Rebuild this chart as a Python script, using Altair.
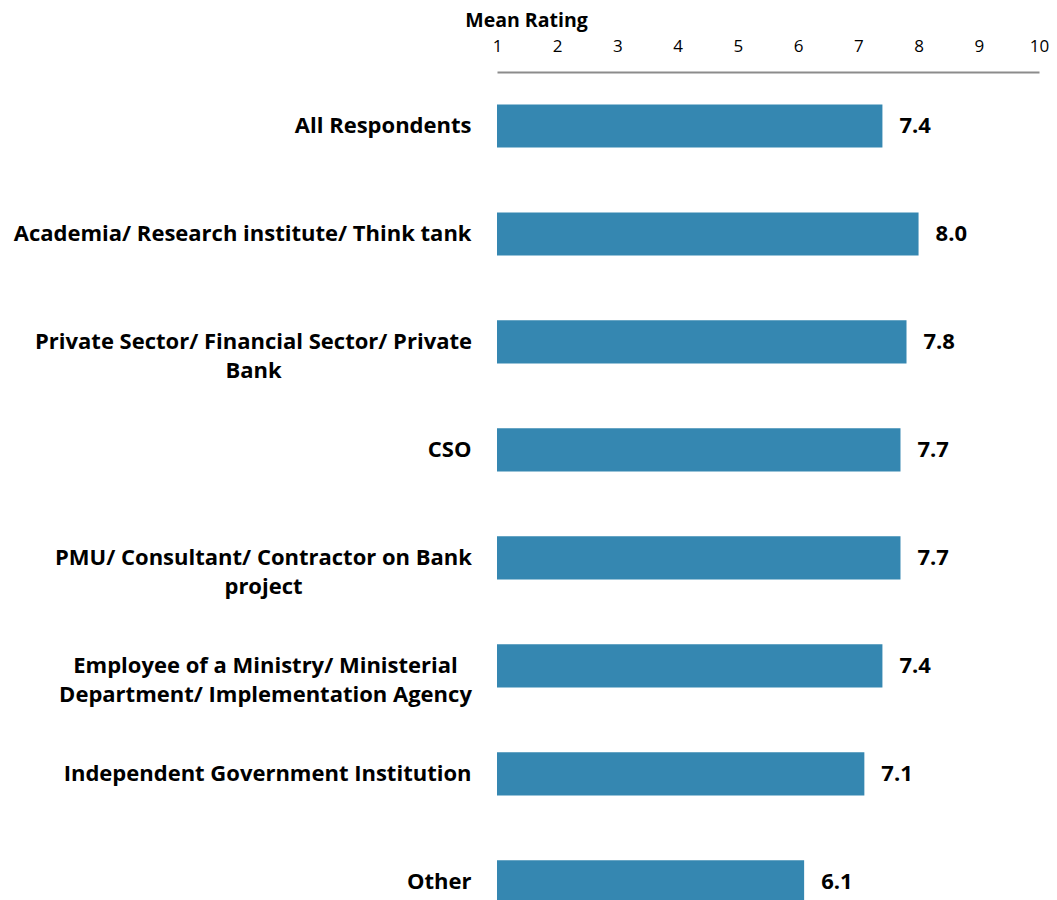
import altair as alt
import pandas as pd

categories = [
    ["All Respondents"],
    ["Academia/ Research institute/ Think tank"],
    ["Private Sector/ Financial Sector/ Private", "Bank"],
    ["CSO"],
    ["PMU/ Consultant/ Contractor on Bank", "project"],
    ["Employee of a Ministry/ Ministerial", "Department/ Implementation Agency"],
    ["Independent Government Institution"],
    ["Other"],
]
values = [7.4, 8.0, 7.8, 7.7, 7.7, 7.4, 7.1, 6.1]
tick_values = [1, 2, 3, 4, 5, 6, 7, 8, 9, 10]
keys = ["c%d" % i for i in range(len(values))]

df = pd.DataFrame({
    "key": keys,
    "value": values,
    "base": [1] * len(values),
    "label": [f"{v:.1f}" for v in values],
})

expr = "{" + ", ".join(
    "'%s': [%s]" % (k, ", ".join("'%s'" % s for s in c)) for k, c in zip(keys, categories)
) + "}[datum.value]"

FONT = "Open Sans"

# wrapped labels are centred as a block whose right edge meets the others
wrap_pad = {"c2": 244, "c4": 234, "c5": 232}
label_align = {
    "condition": {"test": "indexof(%s, datum.value) >= 0" % list(wrap_pad), "value": "center"},
    "value": "right",
}
label_padding = {
    "condition": [{"test": "datum.value === '%s'" % k, "value": v} for k, v in wrap_pad.items()],
    "value": 26,
}

y_enc = alt.Y(
    "key:N",
    sort=keys,
    scale=alt.Scale(paddingInner=0.6, paddingOuter=0.19, align=0.79),
    axis=alt.Axis(
        title=None,
        labelExpr=expr,
        labelFont=FONT,
        labelFontWeight="bold",
        labelFontSize=22,
        labelColor="#000000",
        labelLineHeight=29,
        labelAlign=label_align,
        labelPadding=label_padding,
        labelLimit=600,
        ticks=False,
        domain=False,
    ),
)

x_enc = alt.X(
    "value:Q",
    scale=alt.Scale(domain=[1, 10], zero=False, nice=False),
    axis=alt.Axis(
        orient="top",
        title="Mean Rating",
        titleFont=FONT,
        titleFontWeight="bold",
        titleFontSize=19.5,
        titleColor="#000000",
        titleAlign="center",
        titleAnchor="start",
        titleX=29,
        titleY=-52,
        titleBaseline="middle",
        values=tick_values,
        format="d",
        labelFont=FONT,
        labelFontSize=17,
        labelColor="#000000",
        labelPadding=17,
        labelFlush=False,
        ticks=False,
        grid=False,
        domainColor="#8c8c8c",
        domainWidth=2,
    ),
)

bars = alt.Chart(df).mark_bar(color="#3587B1").encode(
    y=y_enc,
    x=x_enc,
    x2="base:Q",
)

text = alt.Chart(df).mark_text(
    align="left", baseline="middle", dx=17, font=FONT, fontWeight="bold",
    fontSize=22, color="#000000"
).encode(
    y=alt.Y("key:N", sort=keys),
    x="value:Q",
    text="label:N",
)

chart = (bars + text).properties(
    width=542,
    height=840,
    autosize=alt.AutoSizeParams(type="none"),
    padding={"left": 489, "top": 64, "right": 10, "bottom": 0},
).configure_view(stroke=None)

chart.save("out.html", embed_options={"renderer": "svg", "actions": False})
